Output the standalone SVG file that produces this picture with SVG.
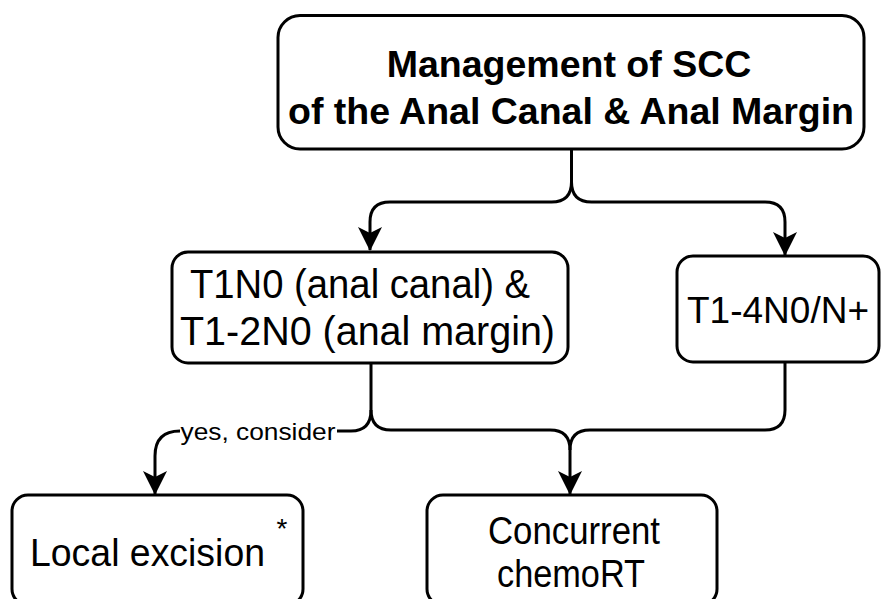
<svg xmlns="http://www.w3.org/2000/svg" width="881" height="599" viewBox="0 0 881 599">
<style>
.box{fill:#fff;stroke:#000;stroke-width:3}
.edge{fill:none;stroke:#000;stroke-width:3}
text{font-family:"Liberation Sans",Arial,sans-serif;fill:#000;text-anchor:middle}
.title{font-weight:bold;font-size:37.5px}
.mid{font-size:41px}
.bot{font-size:38px}
.lbl{font-size:24px}
</style>
<defs>
<marker id="arr" viewBox="0 0 24 24" refX="23" refY="12" markerWidth="24" markerHeight="24" markerUnits="userSpaceOnUse" orient="auto">
<path d="M0,0 L24,12 L0,24 L6,12 Z" fill="#000"/>
</marker>
</defs>
<rect width="881" height="599" fill="#fff"/>
<g id="connectors">
<path class="edge" d="M571.5,149 V182 Q571.5,202 551.5,202 H390 Q370,202 370,222 V250" marker-end="url(#arr)"/>
<path class="edge" d="M571.5,182 Q571.5,202 591.5,202 H765 Q785,202 785,222 V255" marker-end="url(#arr)"/>
<path class="edge" d="M371,363 V410 Q371,430 391,430 H550 Q570,430 570,450 V494" marker-end="url(#arr)"/>
<path class="edge" d="M785,362 V410 Q785,430 765,430 H590 Q570,430 570,450"/>
<path class="edge" d="M371,410 Q371,431 351,431 H337"/>
<path class="edge" d="M180,431 Q155,431 155,456 V494" marker-end="url(#arr)"/>
<text class="lbl" x="258" y="440" textLength="155" lengthAdjust="spacingAndGlyphs">yes, consider</text>
</g>
<g id="n-top">
<rect class="box" x="278" y="15.5" width="586" height="133.5" rx="22"/>
<text class="title" x="569" y="77">Management of SCC</text>
<text class="title" x="571" y="124">of the Anal Canal &amp; Anal Margin</text>
</g>
<g id="n-early">
<rect class="box" x="172" y="252" width="396" height="111" rx="16"/>
<text class="mid" x="360" y="298" textLength="340" lengthAdjust="spacingAndGlyphs">T1N0 (anal canal) &amp;</text>
<text class="mid" x="367.5" y="345" textLength="375" lengthAdjust="spacingAndGlyphs">T1-2N0 (anal margin)</text>
</g>
<g id="n-adv">
<rect class="box" x="677" y="256" width="202" height="106" rx="16"/>
<text x="778" y="323" style="font-size:37px">T1-4N0/N+</text>
</g>
<g id="n-local">
<rect class="box" x="12" y="495" width="291" height="110" rx="16"/>
<text class="bot" x="147.5" y="566" textLength="235" lengthAdjust="spacingAndGlyphs">Local excision</text>
<text class="bot" x="282" y="538" style="font-size:28px">*</text>
</g>
<g id="n-crt">
<rect class="box" x="427" y="495" width="290" height="110" rx="16"/>
<text class="bot" x="574" y="544" textLength="172" lengthAdjust="spacingAndGlyphs">Concurrent</text>
<text class="bot" x="571" y="587" textLength="148" lengthAdjust="spacingAndGlyphs">chemoRT</text>
</g>
</svg>
